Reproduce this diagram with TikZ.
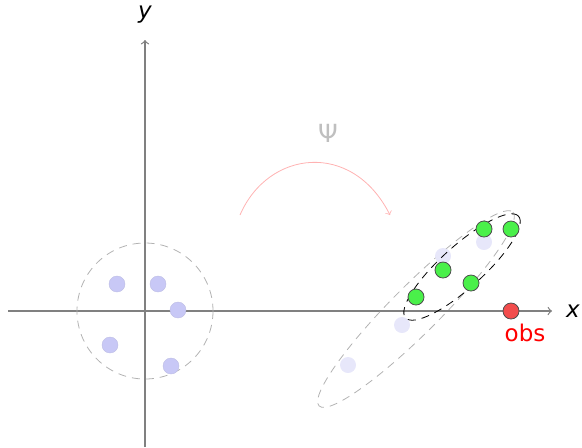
\documentclass[tikz,border=0pt]{standalone}
\usepackage{fontspec}
\setmainfont{DejaVu Sans}
\usepackage{tikz}
\usetikzlibrary{positioning}

\definecolor{ptblue}{RGB}{200,200,246}
\definecolor{ptfade}{RGB}{231,231,250}
\definecolor{ptgreen}{RGB}{74,240,74}
\definecolor{ptred}{RGB}{242,76,76}

\begin{document}
\begin{tikzpicture}[
			x=0.5pt, y=-0.5pt,
			font=\fontsize{11.5}{14}\selectfont,
			axis/.style={->, gray, line width=0.6pt},
			pt/.style={circle, inner sep=0pt, minimum size=8pt},
			src/.style={pt, fill=ptblue, draw=ptblue!85!gray, very thin},
			img/.style={pt, fill=ptfade},
			sel/.style={pt, fill=ptgreen, draw=black!70, thin},
			hull/.style={dash pattern=on 4pt off 3pt, gray!60, thin}
			]
	\useasboundingbox (0,0) rectangle (582,447);
	
	%% axes
	\coordinate (xa) at (8,311);
	\coordinate (xb) at (552,311);
	\coordinate (ya) at (145,447);
	\coordinate (yb) at (145,40);
	\draw[axis] (xa) -- (xb);
	\draw[axis] (ya) -- (yb);
	\node (xlab) at (573,311) {\itshape x};
	\node (ylab) at (145,15) {\itshape y};
	
	%% source distribution
	\draw[hull] (145,311) circle[radius=68];
	\node[src] (s1) at (117,284) {};
	\node[src] (s2) at (158,284) {};
	\node[src] (s3) at (178,310) {};
	\node[src] (s4) at (110,345) {};
	\node[src] (s5) at (171,366) {};
	
	%% map psi
	\node[gray!50, font=\fontsize{12.5}{14}\selectfont] (psi) at (328,133) {Ψ};
	\coordinate (pa) at (240,215);
	\coordinate (pb) at (390,215);
	\draw[->, red!30] (pa) .. controls (268,150) and (352,140) .. (pb);
	
	%% image of the distribution
	\draw[hull] (416,309) ellipse[x radius=137, y radius=24, rotate=45];
	\node[img] (t1) at (443,256) {};
	\node[img] (t2) at (484,242) {};
	\node[img] (t3) at (402,325) {};
	\node[img] (t4) at (348,365) {};
	
	%% selected points
	\draw[dash pattern=on 4pt off 3pt, black, thin] (462,267) ellipse[x radius=76, y radius=21, rotate=42];
	\node[sel] (g1) at (416,297) {};
	\node[sel] (g2) at (443,270) {};
	\node[sel] (g3) at (471,283) {};
	\node[sel] (g4) at (484,229) {};
	\node[sel] (g5) at (511,229) {};
	
	%% observation
	\node[pt, fill=ptred, draw=black!70, thin] (obs) at (511,311) {};
	\node[red] (obslab) at (525,333) {obs};
	
\end{tikzpicture}
\end{document}
